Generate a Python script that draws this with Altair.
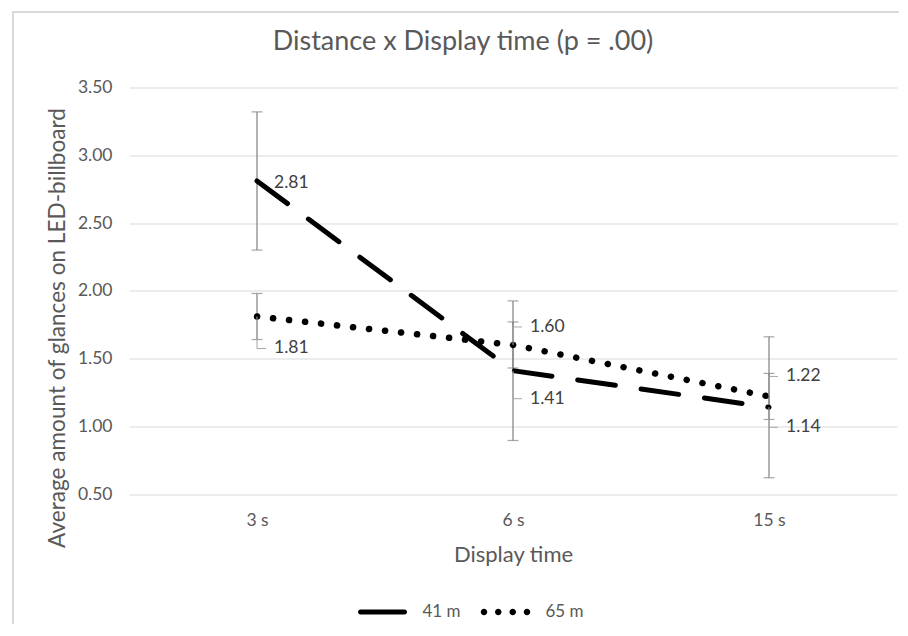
import altair as alt
import pandas as pd

# ---------------- data ----------------
times = ["3 s", "6 s", "15 s"]
series = ["41 m", "65 m"]
mean_41 = [2.81, 1.41, 1.14]
mean_65 = [1.81, 1.60, 1.22]
err_41 = [0.51, 0.515, 0.52]
err_65 = [0.17, 0.17, 0.17]
y_ticks = [0.5, 1.0, 1.5, 2.0, 2.5, 3.0, 3.5]

rows = []
for s, means, errs in [("41 m", mean_41, err_41), ("65 m", mean_65, err_65)]:
    for t, m, e in zip(times, means, errs):
        rows.append({"time": t, "series": s, "value": m, "lo": m - e, "hi": m + e,
                     "label": f"{m:.2f}"})
df = pd.DataFrame(rows)

# ---------------- styles ----------------
FONT = "Lato"
GRAY_TXT = "#595959"
W, H = 768, 406.5
# pixel offsets of the data labels (style), keyed by (series, time)
LABEL_DY = {("41 m", "3 s"): 2, ("41 m", "6 s"): 28, ("41 m", "15 s"): 20,
            ("65 m", "3 s"): 32, ("65 m", "6 s"): -18, ("65 m", "15 s"): -20}
LEADER = {("41 m", "3 s"): False}

DASH_PATH = ("M-0.88,-0.1 L0.88,-0.1 A0.1,0.1 0 0 1 0.88,0.1 "
             "L-0.88,0.1 A0.1,0.1 0 0 1 -0.88,-0.1 Z")
def circ(cx, r=0.13):
    return f"M{cx - r},0 A{r},{r} 0 1,0 {cx + r},0 A{r},{r} 0 1,0 {cx - r},0 Z"
DOTS_PATH = " ".join(circ(c) for c in [-0.86, -0.29, 0.29, 0.86])

x_enc = alt.X("time:O", sort=times,
              scale=alt.Scale(type="point", padding=0.5),
              axis=alt.Axis(title="Display time", labelAngle=0, ticks=False, domain=False,
                            grid=False, labelFont=FONT, labelFontSize=17.5,
                            labelColor=GRAY_TXT, labelPadding=17,
                            titleFont=FONT, titleFontSize=22, titleFontWeight="normal",
                            titleColor=GRAY_TXT, titleBaseline="alphabetic", titleY=67))
y_scale = alt.Scale(domain=[0.5, 3.5], nice=False, zero=False)
y_enc = alt.Y("value:Q", scale=y_scale,
              axis=alt.Axis(title="Average amount of glances on LED-billboard",
                            values=y_ticks, format=".2f", ticks=False, domain=False,
                            grid=True, gridColor="#d9d9d9", gridWidth=1,
                            labelFont=FONT, labelFontSize=17.5, labelColor=GRAY_TXT,
                            labelPadding=17, titleFont=FONT, titleFontSize=22.6,
                            titleFontWeight="normal", titleColor=GRAY_TXT,
                            titleBaseline="alphabetic", titleX=-65, titleY=240))

base = alt.Chart(df)

# error bars
err_rule = base.mark_rule(color="#808080", strokeWidth=1.2).encode(
    x=x_enc, y=alt.Y("lo:Q", scale=y_scale), y2="hi:Q")
cap_lo = base.mark_tick(color="#808080", thickness=1.2, size=11).encode(
    x=alt.X("time:O", sort=times), y=alt.Y("lo:Q", scale=y_scale))
cap_hi = base.mark_tick(color="#808080", thickness=1.2, size=11).encode(
    x=alt.X("time:O", sort=times), y=alt.Y("hi:Q", scale=y_scale))

line41 = base.transform_filter(alt.datum.series == "41 m").mark_line(
    color="black", strokeWidth=5, strokeCap="round", strokeDash=[38, 26]).encode(
    x=x_enc, y=y_enc)
line65 = base.transform_filter(alt.datum.series == "65 m").mark_line(
    color="black", strokeWidth=6.5, strokeCap="round", strokeDash=[0.1, 16]).encode(
    x=x_enc, y=y_enc)

# invisible points carrying the legend
legend_pts = base.mark_point(filled=True, color="black", opacity=0).encode(
    x=alt.X("time:O", sort=times), y=alt.Y("value:Q", scale=y_scale),
    shape=alt.Shape("series:N",
                    scale=alt.Scale(domain=series, range=[DASH_PATH, DOTS_PATH]),
                    legend=alt.Legend(orient="none", legendX=228.5, legendY=499.5,
                                      direction="horizontal", title=None,
                                      symbolSize=2500, symbolFillColor="black",
                                      symbolStrokeWidth=0, symbolOpacity=1,
                                      labelFont=FONT, labelFontSize=17,
                                      labelColor=GRAY_TXT, labelOffset=15,
                                      columnPadding=19, padding=0)))

layers = [err_rule, cap_lo, cap_hi, line41, line65, legend_pts]

for (s, t), dy in LABEL_DY.items():
    sub = base.transform_filter((alt.datum.series == s) & (alt.datum.time == t))
    if LEADER.get((s, t), True):
        layers.append(sub.mark_rule(color="#a6a6a6", strokeWidth=1, y2Offset=dy).encode(
            x=alt.X("time:O", sort=times), y=alt.Y("value:Q", scale=y_scale),
            y2="value:Q"))
        layers.append(sub.mark_rule(color="#a6a6a6", strokeWidth=1, yOffset=dy,
                                    x2Offset=9).encode(
            x=alt.X("time:O", sort=times), x2="time:O",
            y=alt.Y("value:Q", scale=y_scale)))
    layers.append(sub.mark_text(align="left", baseline="middle", dx=17, dy=dy,
                                font=FONT, fontSize=17.5, color="#404040").encode(
        x=alt.X("time:O", sort=times), y=alt.Y("value:Q", scale=y_scale),
        text="label:N"))

# chart-area frame (decoration)
frame_v = alt.Chart(df).mark_rule(color="#d9d9d9", strokeWidth=2).encode(
    x=alt.value(-116), y=alt.value(-75.5), y2=alt.value(540))
frame_h = alt.Chart(df).mark_rule(color="#d9d9d9", strokeWidth=2).encode(
    x=alt.value(-117), x2=alt.value(780), y=alt.value(-75.5))
layers += [frame_v, frame_h]

chart = alt.layer(*layers).properties(
    width=W, height=H,
    title=alt.Title("Distance x Display time (p = .00)", font=FONT, fontSize=27,
                    fontWeight="normal", color=GRAY_TXT, anchor="middle", dx=-50,
                    offset=-66, baseline="alphabetic"),
    padding={"left": 121, "top": 79.5, "right": 2, "bottom": 130},
    autosize=alt.AutoSizeParams(type="none"),
).configure_view(stroke=None)

chart.save("out.html", embed_options={"renderer": "svg", "actions": False})
